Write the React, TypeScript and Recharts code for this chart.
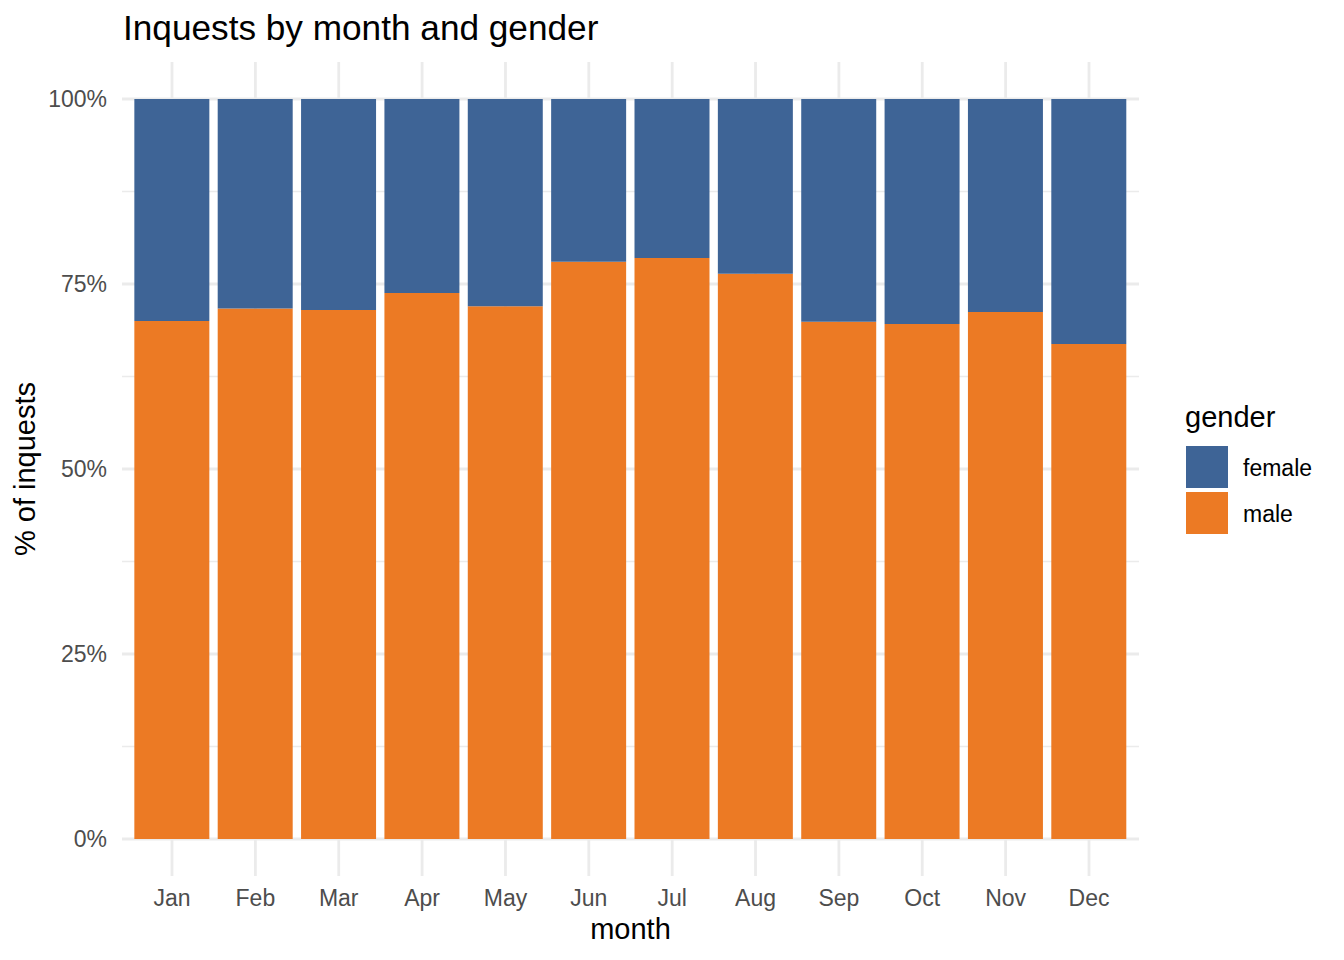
import { BarChart, Bar, XAxis, YAxis, CartesianGrid } from 'recharts';

const months = ['Jan', 'Feb', 'Mar', 'Apr', 'May', 'Jun', 'Jul', 'Aug', 'Sep', 'Oct', 'Nov', 'Dec'];
const maleShare = [70.0, 71.7, 71.5, 73.8, 72.0, 78.0, 78.5, 76.4, 69.9, 69.6, 71.2, 66.9];
const femaleShare = [30.0, 28.3, 28.5, 26.2, 28.0, 22.0, 21.5, 23.6, 30.1, 30.4, 28.8, 33.1];
const yTicks = [0, 25, 50, 75, 100];
const yMinorTicks = [12.5, 37.5, 62.5, 87.5];
const legendItems = ['female', 'male'];

const chartData = months.map((month, i) => ({
  month,
  male: maleShare[i],
  female: femaleShare[i],
}));

const FONT = '"Liberation Sans", Arial, Helvetica, sans-serif';
const FEMALE_COLOR = '#3E6496';
const MALE_COLOR = '#EC7A24';
const GRID_COLOR = '#EBEBEB';
const TICK_COLOR = '#4D4D4D';

const legendColors: Record<string, string> = { female: FEMALE_COLOR, male: MALE_COLOR };

export default function App() {
  return (
    <div style={{ position: 'absolute', left: 0, top: 0, width: 1344, height: 960, background: '#fff' }}>
      <BarChart
        width={1344}
        height={960}
        data={chartData}
        margin={{ top: 62, right: 205, bottom: 0, left: 12 }}
      >
        {/* minor lines thin, major lines (and month lines) thicker */}
        <CartesianGrid horizontalValues={yMinorTicks} vertical={false} stroke={GRID_COLOR} strokeWidth={1.4} />
        <CartesianGrid
          horizontalValues={yTicks}
          verticalValues={months}
          syncWithTicks
          stroke={GRID_COLOR}
          strokeWidth={2.8}
        />
        <XAxis
          dataKey="month"
          interval={0}
          padding={{ left: 8.34, right: 8.34 }}
          height={84}
          axisLine={false}
          tickLine={false}
          tickSize={0}
          tickMargin={14}
          tick={{ fontSize: 23, fill: TICK_COLOR, fontFamily: FONT }}
        />
        <YAxis
          type="number"
          domain={[-5, 105]}
          ticks={yTicks}
          width={110}
          axisLine={false}
          tickLine={false}
          tickSize={0}
          tickMargin={15}
          tickFormatter={(v) => `${v}%`}
          tick={{ fontSize: 23, fill: TICK_COLOR, fontFamily: FONT }}
        />
        <Bar dataKey="male" stackId="g" fill={MALE_COLOR} barSize={75} isAnimationActive={false} />
        <Bar dataKey="female" stackId="g" fill={FEMALE_COLOR} barSize={75} isAnimationActive={false} />
      </BarChart>

      {/* title, axis titles and legend */}
      <svg
        width={1344}
        height={960}
        style={{ position: 'absolute', left: 0, top: 0, pointerEvents: 'none', fontFamily: FONT }}
      >
        <text x={123} y={40} fontSize={35.2} fill="#000">Inquests by month and gender</text>
        <text x={630.5} y={939} fontSize={29} fill="#000" textAnchor="middle">month</text>
        <text x={35} y={469} fontSize={29} fill="#000" textAnchor="middle" transform="rotate(-90 35 469)">
          % of inquests
        </text>
        <text x={1185} y={427} fontSize={29} fill="#000">gender</text>
        {legendItems.map((name, i) => (
          <g key={name}>
            <rect x={1186} y={446 + i * 46} width={42} height={42} fill={legendColors[name]} />
            <text x={1243} y={476 + i * 46} fontSize={23} fill="#000">{name}</text>
          </g>
        ))}
      </svg>
    </div>
  );
}
